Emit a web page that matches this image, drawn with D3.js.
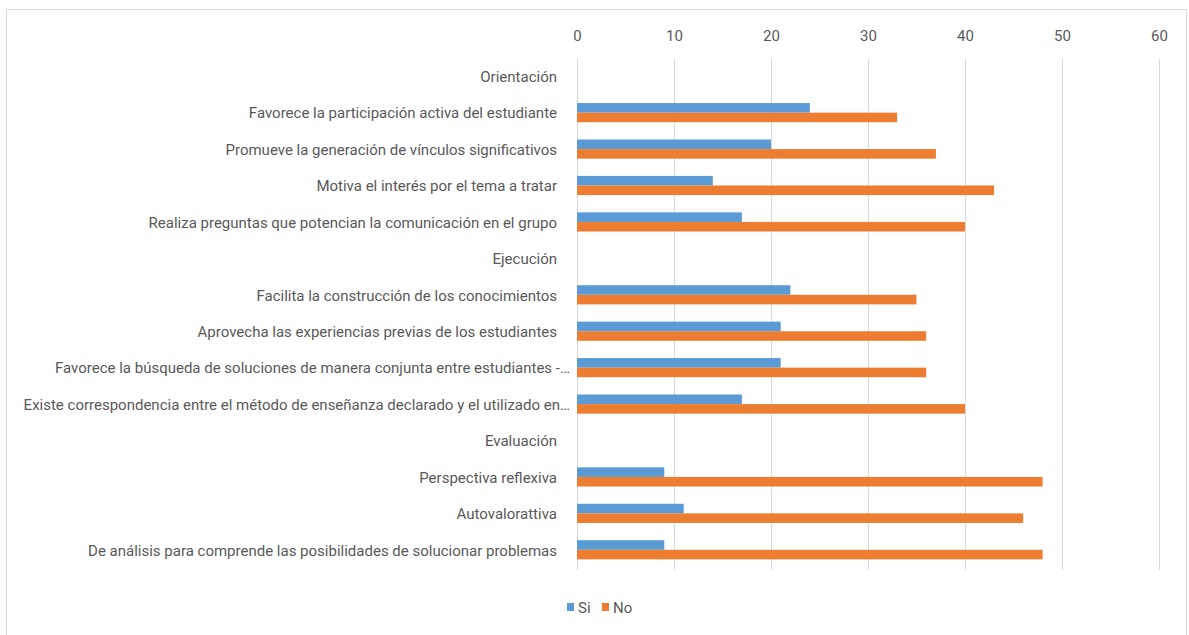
<!DOCTYPE html>
<html>
<head>
<meta charset="utf-8">
<script src="https://cdn.jsdelivr.net/npm/d3@7"></script>
<style>
  body { margin: 0; background: #fff; }
  text { font-family: "Roboto", sans-serif; fill: #595959; }
</style>
</head>
<body>
<svg id="chart" width="1189" height="635"></svg>
<script>
// data
let categories = [
    "Orientación",
    "Favorece la participación activa del estudiante",
    "Promueve la generación de vínculos significativos",
    "Motiva el interés por el tema a tratar",
    "Realiza preguntas que potencian la comunicación en el grupo",
    "Ejecución",
    "Facilita la construcción de los conocimientos",
    "Aprovecha las experiencias previas de los estudiantes",
    "Favorece la búsqueda de soluciones de manera conjunta entre estudiantes -…",
    "Existe correspondencia entre el método de enseñanza declarado y el utilizado en…",
    "Evaluación",
    "Perspectiva reflexiva",
    "Autovalorattiva",
    "De análisis para comprende las  posibilidades de solucionar problemas"
]
let siValues = [null, 24, 20, 14, 17, null, 22, 21, 21, 17, null, 9, 11, 9]
let noValues = [null, 33, 37, 43, 40, null, 35, 36, 36, 40, null, 48, 46, 48]
let seriesNames = ["Si", "No"]
let seriesColors = ["#5b9bd5", "#ed7d31"]
let xTicks = [0, 10, 20, 30, 40, 50, 60]

let svg = d3.select('#chart')

// frame
svg.append('rect')
    .attr('x', 6.5).attr('y', 9.5)
    .attr('width', 1180).attr('height', 640)
    .style('fill', 'none').style('stroke', '#d9d9d9')

let x = d3.scaleLinear().domain([0, 60]).range([577, 1159])
let y = d3.scaleBand().domain(categories).range([58, 568])
let ySub = d3.scaleBand().domain(seriesNames).range([0, y.bandwidth()]).paddingInner(0).paddingOuter(0.9)

// grid lines
svg.append('g').selectAll('line')
    .data(xTicks)
    .enter().append('line')
    .attr('x1', d => x(d) + 0.5).attr('x2', d => x(d) + 0.5)
    .attr('y1', 59).attr('y2', 570)
    .style('stroke', '#d9d9d9').style('stroke-width', 1)

// top axis labels
let xAxis = svg.append('g')
    .attr('transform', 'translate(0, 41)')
    .call(d3.axisTop(x).tickValues(xTicks).tickSize(0).tickPadding(0))
xAxis.select('.domain').remove()
xAxis.selectAll('text').style('font-size', '15px').style('fill', '#595959')
    .style('font-family', '"Roboto", sans-serif')

// category labels (truncated ones sit a bit further right, as in the original)
let yAxis = svg.append('g')
    .attr('transform', 'translate(557, 1)')
    .call(d3.axisLeft(y).tickSize(0).tickPadding(0))
yAxis.select('.domain').remove()
yAxis.selectAll('text').style('font-size', '15px').style('fill', '#595959')
    .style('font-family', '"Roboto", sans-serif')
    .attr('x', d => d.endsWith('…') ? 13 : 0)

// bars
let seriesData = [siValues, noValues]
seriesData.forEach((vals, s) => {
    svg.append('g').selectAll('rect')
        .data(categories.map((c, i) => ({c: c, v: vals[i]})).filter(d => d.v !== null))
        .enter().append('rect')
        .attr('x', x(0))
        .attr('y', d => y(d.c) + ySub(seriesNames[s]))
        .attr('width', d => x(d.v) - x(0))
        .attr('height', ySub.bandwidth())
        .style('fill', seriesColors[s])
})

// legend
let legend = svg.append('g').attr('transform', 'translate(567, 603)')
let lx = [0, 35]
seriesNames.forEach((n, i) => {
    legend.append('rect').attr('x', lx[i]).attr('y', 0).attr('width', 7).attr('height', 8)
        .style('fill', seriesColors[i])
    legend.append('text').attr('x', lx[i] + 11).attr('y', 10)
        .style('font-size', '15px').text(n)
})
</script>
</body>
</html>
